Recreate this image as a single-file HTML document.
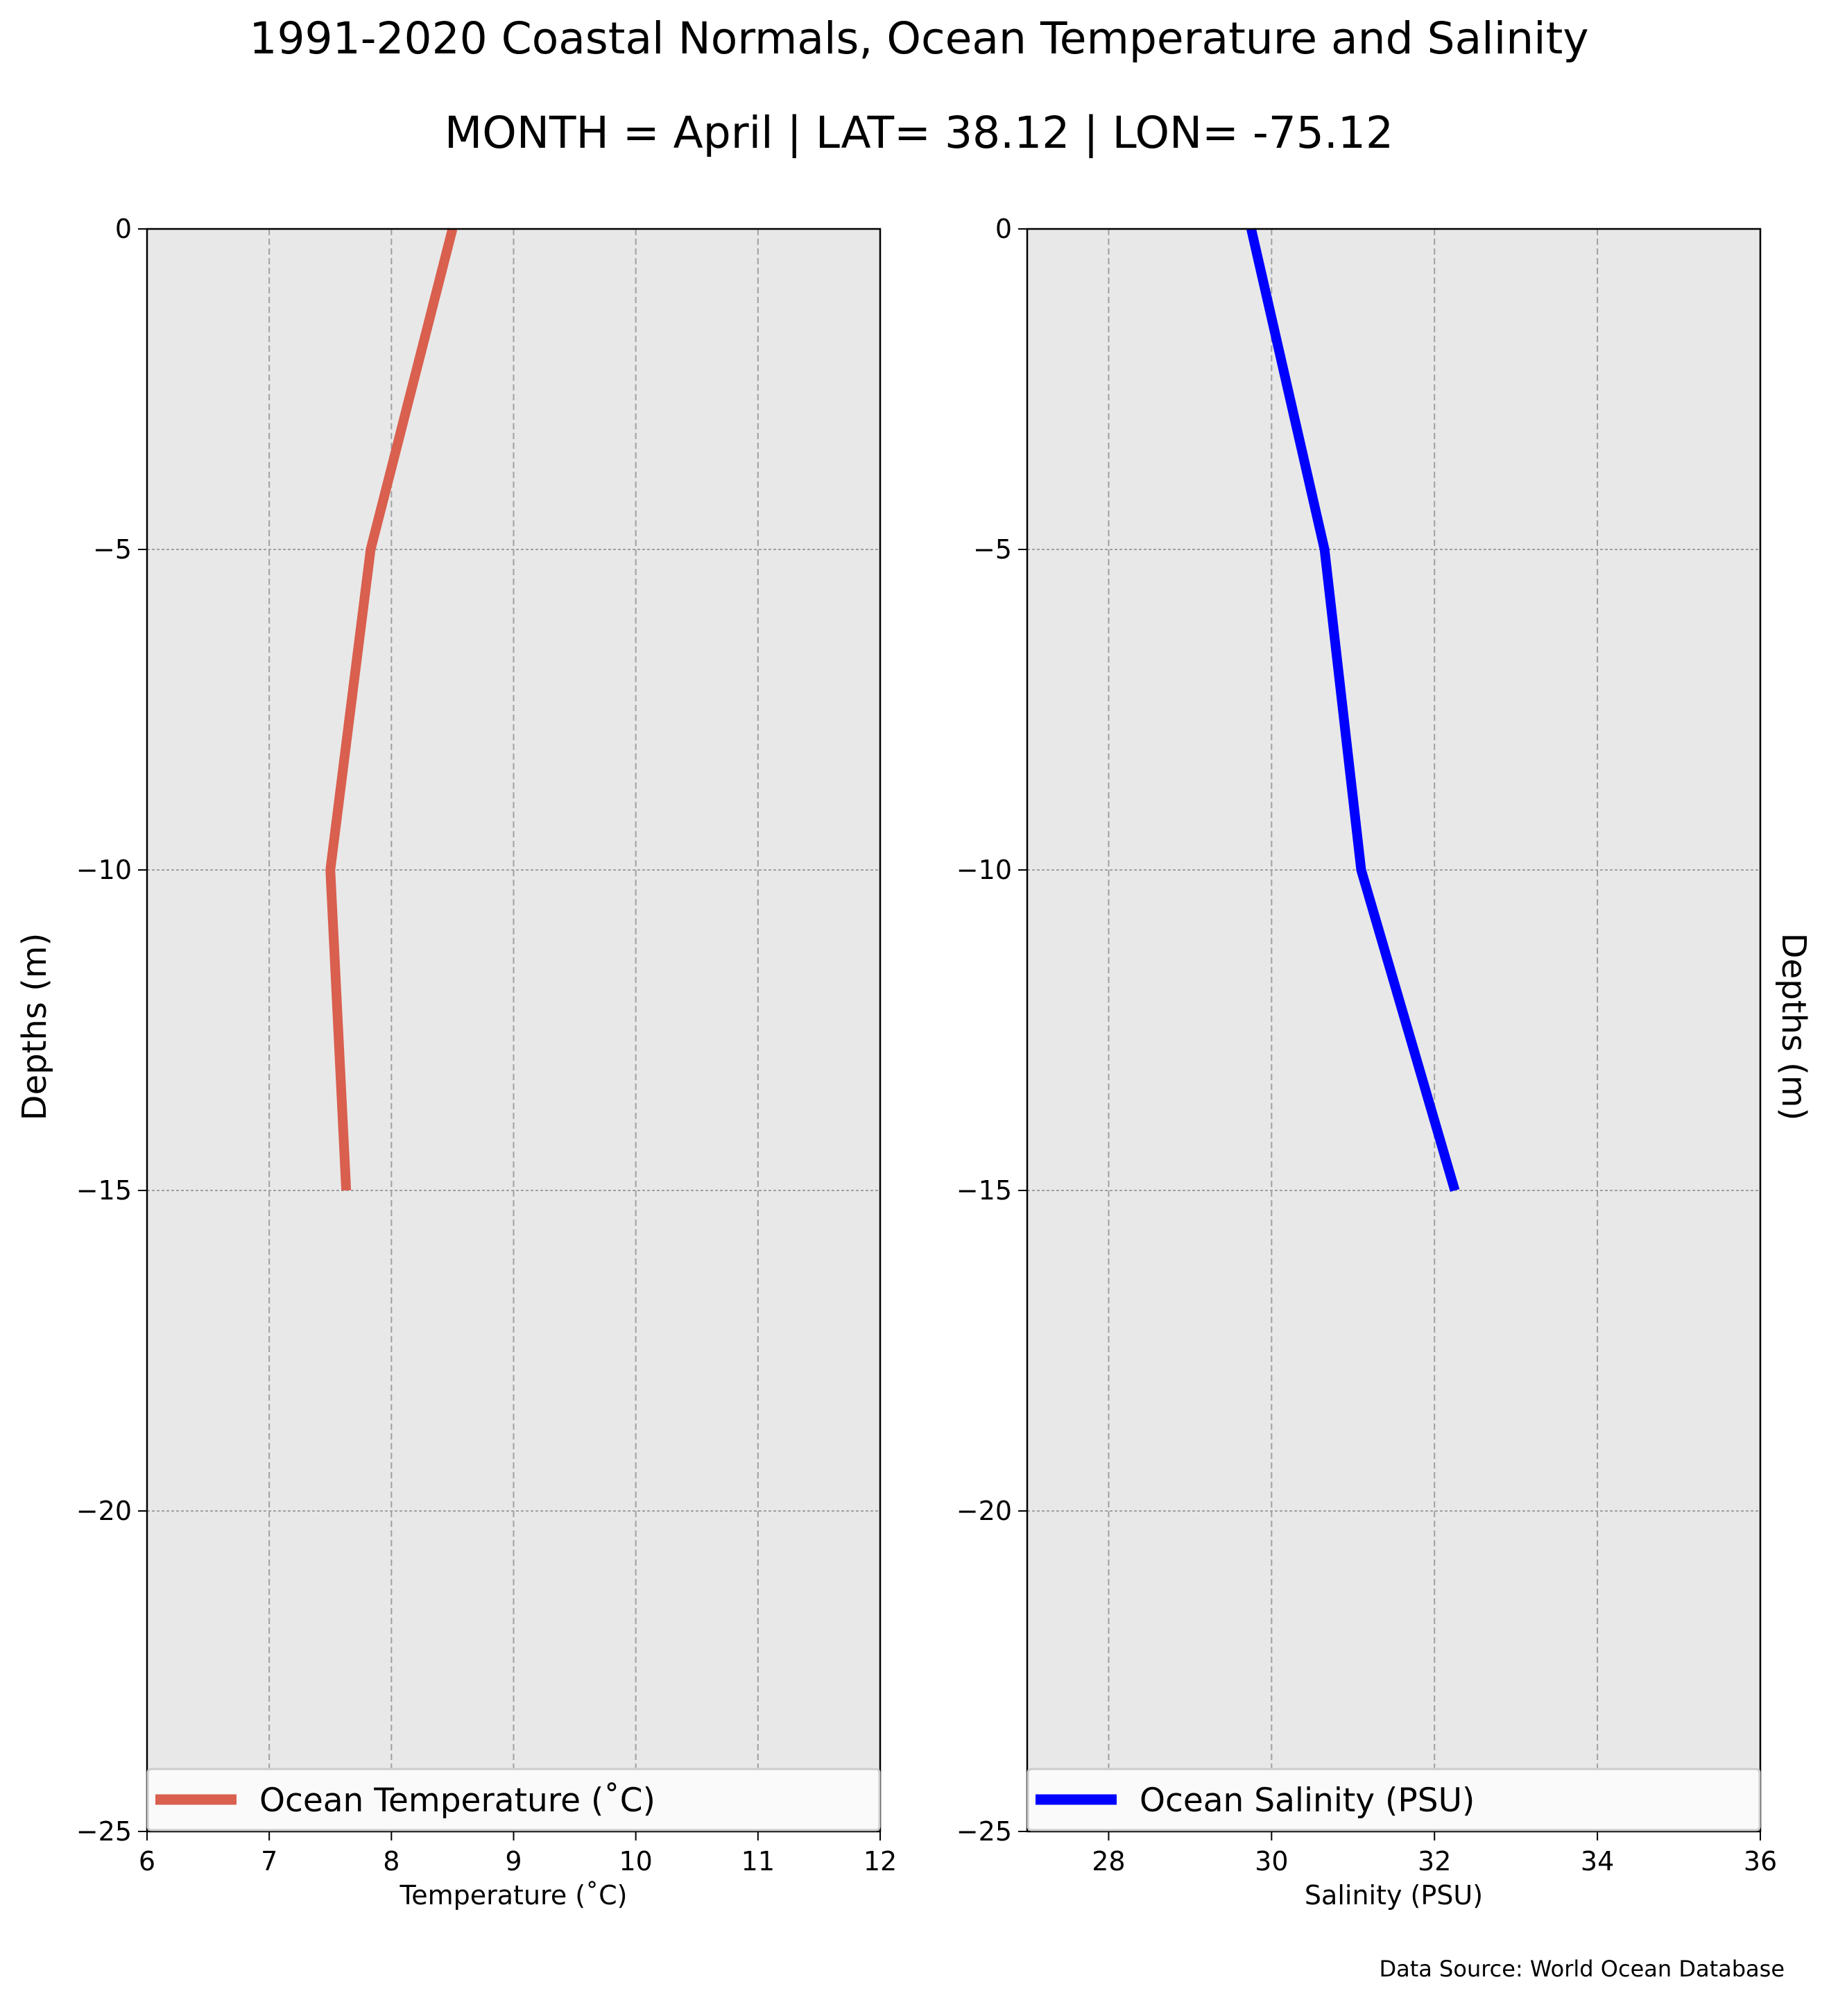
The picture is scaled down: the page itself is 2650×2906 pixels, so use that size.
<!DOCTYPE html>
<html><head><meta charset="utf-8"><style>
html,body{margin:0;padding:0;background:#fff}
svg text{font-family:"DejaVu Sans","Liberation Sans",sans-serif;fill:#000}
</style></head><body>
<svg id="chart" width="2650" height="2901" viewBox="0 0 2650 2901" xmlns="http://www.w3.org/2000/svg">
<text x="1325" y="77" font-size="63" text-anchor="middle">1991-2020 Coastal Normals, Ocean Temperature and Salinity</text>
<text x="1325" y="213" font-size="63" text-anchor="middle">MONTH = April | LAT= 38.12 | LON= -75.12</text>
<text transform="translate(66,1480) rotate(-90)" font-size="48" text-anchor="middle">Depths (m)</text>
<text transform="translate(2570,1480) rotate(90)" font-size="48" text-anchor="middle">Depths (m)</text>
<text x="2573" y="2849" font-size="32" text-anchor="end">Data Source: World Ocean Database</text>
<g id="p1"></g>
<g id="p2"></g>
</svg>
<script>
const depths = [0, -5, -10, -15];
const temperature = [8.5, 7.83, 7.5, 7.63];
const salinity = [29.75, 30.65, 31.1, 32.25];
const depthTicks = [0, -5, -10, -15, -20, -25];
const tempTicks = [6, 7, 8, 9, 10, 11, 12];
const salTicks = [28, 30, 32, 34, 36];

const NS = 'http://www.w3.org/2000/svg';
function mk(parent, tag, attrs, text) {
  const e = document.createElementNS(NS, tag);
  for (const k in attrs) e.setAttribute(k, attrs[k]);
  if (text !== undefined) e.textContent = text;
  parent.appendChild(e);
  return e;
}
const plotTop = 330, plotBot = 2640;
function yScale(d) { return plotTop + (0 - d) / 25 * (plotBot - plotTop); }

function panel(g, left, right, xmin, xmax, xticks, vals, color, xlabel, legendText, prefix) {
  const xs = v => left + (v - xmin) / (xmax - xmin) * (right - left);
  const bg = mk(g, 'rect', {x: left, y: plotTop, width: right - left, height: plotBot - plotTop, fill: '#e8e8e8'});
  
  
  xticks.forEach(t => {
    const gl = mk(g, 'line', {x1: xs(t), x2: xs(t), y1: plotTop, y2: plotBot, stroke: '#a0a0a0', 'stroke-width': 2, 'stroke-dasharray': '9,5'});
    
    
    const tk = mk(g, 'line', {x1: xs(t), x2: xs(t), y1: plotBot, y2: plotBot + 13, stroke: '#000', 'stroke-width': 2});
    
    
    const tl = mk(g, 'text', {x: xs(t), y: plotBot + 56, 'font-size': 38, 'text-anchor': 'middle'}, String(t));
    
    
  });
  depthTicks.forEach(d => {
    const y = yScale(d);
    const gl = mk(g, 'line', {x1: left, x2: right, y1: y, y2: y, stroke: '#a0a0a0', 'stroke-width': 2, 'stroke-dasharray': '4,3'});
    
    
    const tk = mk(g, 'line', {x1: left - 13, x2: left, y1: y, y2: y, stroke: '#000', 'stroke-width': 2});
    
    
    const tl = mk(g, 'text', {x: left - 22, y: y + 13, 'font-size': 38, 'text-anchor': 'end'}, d < 0 ? '\u2212' + Math.abs(d) : String(d));
    
    
  });
  const pts = vals.map((v, i) => xs(v) + ',' + yScale(depths[i])).join(' ');
  const ln = mk(g, 'polyline', {points: pts, fill: 'none', stroke: color, 'stroke-width': 14});
  
  
  const fr = mk(g, 'rect', {x: left, y: plotTop, width: right - left, height: plotBot - plotTop, fill: 'none', stroke: '#000', 'stroke-width': 2.5});
  
  
  const lg = mk(g, 'g', {});
  
  
  mk(lg, 'rect', {x: left + 1, y: 2550, width: right - left - 2, height: 88, rx: 5, fill: '#fafafa', stroke: '#cccccc', 'stroke-width': 3});
  mk(lg, 'line', {x1: left + 12, x2: left + 129, y1: 2594, y2: 2594, stroke: color, 'stroke-width': 15});
  mk(lg, 'text', {x: left + 162, y: 2611, 'font-size': 47}, legendText);
  const xl = mk(g, 'text', {x: (left + right) / 2, y: 2745, 'font-size': 38, 'text-anchor': 'middle'}, xlabel);
  
  
}
panel(document.getElementById('p1'), 212, 1269, 6, 12, tempTicks, temperature, '#d95f4e', 'Temperature (\u02daC)', 'Ocean Temperature (\u02daC)', 'temperature');
panel(document.getElementById('p2'), 1481, 2538, 27, 36, salTicks, salinity, '#0000ff', 'Salinity (PSU)', 'Ocean Salinity (PSU)', 'salinity');
</script>
</body></html>
